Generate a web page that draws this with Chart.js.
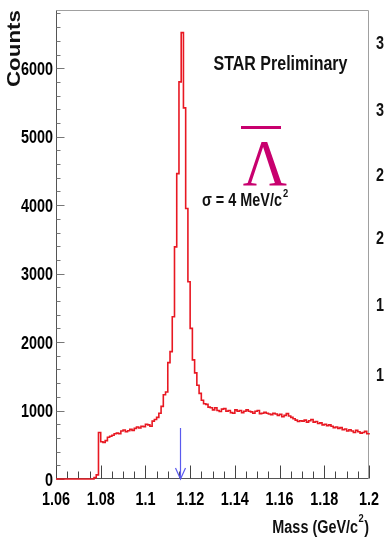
<!DOCTYPE html>
<html><head><meta charset="utf-8">
<script src="https://cdn.jsdelivr.net/npm/chart.js@4.4.1/dist/chart.umd.min.js"></script>
<style>html,body{margin:0;padding:0;background:#fff}#wrap{width:384px;height:553px;position:relative;overflow:hidden}</style>
</head><body><div id="wrap"><canvas id="c" width="384" height="553"></canvas></div>
<script>
// ---- data ----
const binStart = 1.060;      // GeV/c^2, lower edge of first bin
const binWidth = 0.001;      // 1 MeV bins
const counts = [
  0,0,0,0,0,0,0,0,0,0,0,0,0,0,0,0,        // 1.060-1.075
  20,60,680,545,535,560,610,625,640,660,   // 1.076-1.085
  670,660,700,715,690,705,725,710,740,760, // 1.086-1.095
  745,770,765,800,790,770,845,870,900,960, // 1.096-1.105
  1060,1230,1270,1700,1860,2370,3390,4460,5800,6520, // 1.106-1.115
  5420,3950,2880,2200,1740,1550,1370,1250,1150,1100, // 1.116-1.125
  1090,1050,1040,1010,1040,1000,985,1020,1030,990,   // 1.126-1.135
  1000,970,960,1010,990,1000,970,990,1010,990,       // 1.136-1.145
  980,960,990,1000,955,960,975,960,950,940,          // 1.146-1.155
  960,950,930,945,910,930,955,920,900,880,           // 1.156-1.165
  860,840,850,845,860,830,850,870,830,840,           // 1.166-1.175
  810,820,790,800,780,790,770,750,760,740,           // 1.176-1.185
  750,720,730,700,720,700,680,710,690,670,           // 1.186-1.195
  680,695,660,650                                    // 1.196-1.199
];
const xTickValues = [1.06,1.08,1.10,1.12,1.14,1.16,1.18,1.20];
const yTickValues = [0,1000,2000,3000,4000,5000,6000];
const xRange = [1.06, 1.20];
const yMax = 6850;
const arrowMass = [1.11568];
const arrowTop = [745];
const neighbourDigits = ['3','3','2','2','1','1'];
const xTitle = ['Mass (GeV/c','2',')'];
const yTitle = 'Counts';
const labelStar = 'STAR Preliminary';
const labelSigma = ['\u03C3 = 4 MeV/c','2'];
const labelLambda = '\u039B';

// ---- build histogram outline (value of bin i spans [edge_i, edge_i+1]) ----
const pts = [{x: binStart, y: 0}];
counts.forEach((c,i)=>pts.push({x: binStart + (i+1)*binWidth, y: c}));
pts.push({x: binStart + counts.length*binWidth, y: 0});

function txt(ctx,s,x,y,font,sx,align,color){
  ctx.save(); ctx.translate(x,y); ctx.scale(sx,1);
  ctx.font=font; ctx.textAlign=align; ctx.textBaseline='alphabetic';
  ctx.fillStyle=color||'#000'; ctx.fillText(s,0,0); ctx.restore();
}
function wid(ctx,s,font,sx){ctx.save();ctx.font=font;const w=ctx.measureText(s).width*sx;ctx.restore();return w;}
const bf = s => 'bold '+s+'px "Liberation Sans", Arial, sans-serif';

const deco = {
  id:'deco',
  beforeDatasetsDraw(chart){
    const {ctx, chartArea:a, scales:{x,y}} = chart;
    ctx.save();
    const L=Math.round(a.left)+0.5, R=Math.round(a.right)-0.5, T=Math.round(a.top)+0.5, B=Math.round(a.bottom)-0.5;
    ctx.lineWidth=1;
    ctx.strokeStyle='#a0a0a0';
    ctx.beginPath(); ctx.moveTo(L,T); ctx.lineTo(R,T); ctx.lineTo(R,B); ctx.stroke();
    ctx.strokeStyle='#555';
    ctx.beginPath(); ctx.moveTo(L,T); ctx.lineTo(L,B); ctx.lineTo(R,B); ctx.stroke();
    // x ticks (inward)
    ctx.strokeStyle='#444';
    for(let k=0;k<=28;k++){
      const v = xRange[0] + k*0.005;
      const px = Math.round(x.getPixelForValue(v))+0.5;
      const len = (k%4===0)?13:7;
      ctx.beginPath(); ctx.moveTo(px,B); ctx.lineTo(px,B-len); ctx.stroke();
    }
    // y ticks (inward)
    ctx.strokeStyle='#777';
    for(let v=0; v<=yMax; v+=200){
      const py = Math.round(y.getPixelForValue(v))+0.5;
      const len = (v%1000===0)?8:4;
      ctx.beginPath(); ctx.moveTo(L,py); ctx.lineTo(L+len,py); ctx.stroke();
    }
    // tick labels, placed through the library's scales
    x.ticks.forEach(t=>{
      txt(ctx,String(Math.round(t.value*100)/100),x.getPixelForValue(t.value),505,bf(18),0.8,'center','#000');
    });
    y.ticks.forEach(t=>{
      txt(ctx,String(t.value),a.left-3,y.getPixelForValue(t.value)+6.5,bf(18),0.8,'right','#000');
    });
    ctx.restore();
  },
  afterDatasetsDraw(chart){
    const {ctx, chartArea:a, scales:{x,y}} = chart;
    ctx.save();
    // arrow at nominal Lambda mass
    const ax = Math.round(x.getPixelForValue(arrowMass[0]))+0.5;
    const y0 = y.getPixelForValue(0), y1 = y.getPixelForValue(arrowTop[0]);
    ctx.strokeStyle='#5a5aee'; ctx.lineWidth=1.2;
    ctx.beginPath(); ctx.moveTo(ax,y1); ctx.lineTo(ax,y0); ctx.stroke();
    ctx.beginPath(); ctx.moveTo(ax-5,y0-11); ctx.lineTo(ax,y0); ctx.lineTo(ax+5,y0-11); ctx.stroke();

    // STAR Preliminary
    txt(ctx,labelStar,280.5,70,bf(20),0.8,'center','#111');
    // anti-Lambda
    const mag='#c8006e';
    ctx.fillStyle=mag; ctx.fillRect(241,126,40,3);
    txt(ctx,labelLambda,265,185,'65px "Liberation Serif", "DejaVu Serif", serif',0.94,'center',mag);
    // sigma
    const w1 = wid(ctx,labelSigma[0],bf(18),0.8);
    txt(ctx,labelSigma[0],202,206,bf(18),0.8,'left','#111');
    txt(ctx,labelSigma[1],202+w1+1,197,bf(11),0.85,'left','#111');
    // x title
    const wc = wid(ctx,xTitle[2],bf(18),0.8), ws = wid(ctx,xTitle[1],bf(11),0.85);
    const xe = a.right;
    txt(ctx,xTitle[2],xe-wc,533,bf(18),0.8,'left','#111');
    txt(ctx,xTitle[1],xe-wc-ws-0.5,522,bf(11),0.85,'left','#111');
    txt(ctx,xTitle[0],xe-wc-ws-1,533,bf(18),0.8,'right','#111');
    // y title
    ctx.save(); ctx.translate(20,a.top+77); ctx.rotate(-Math.PI/2); ctx.scale(1.24,1);
    ctx.font=bf(18); ctx.fillStyle='#111'; ctx.textAlign='left'; ctx.fillText(yTitle,0,0); ctx.restore();
    // neighbouring panel's clipped tick digits
    const nb=[49,115.5,181,244,311,381];
    neighbourDigits.forEach((d,i)=>txt(ctx,d,376,nb[i],bf(18),0.8,'left','#111'));
    ctx.restore();
  }
};

new Chart(document.getElementById('c'), {
  type:'line',
  data:{datasets:[{data:pts, stepped:'before', borderColor:'rgb(232,24,34)', borderWidth:1.6,
    pointRadius:0, fill:false, clip:false}]},
  options:{
    responsive:false, animation:false, devicePixelRatio:1,
    layout:{padding:{left:0,right:15,top:10,bottom:0}},
    plugins:{legend:{display:false}, tooltip:{enabled:false}},
    scales:{
      x:{type:'linear', min:xRange[0], max:xRange[1],
        afterBuildTicks:s=>{s.ticks=xTickValues.map(v=>({value:v}));},
        afterFit:s=>{s.height=74;},
        grid:{display:false, drawTicks:false}, border:{display:false},
        ticks:{display:false}},
      y:{type:'linear', min:0, max:yMax,
        afterBuildTicks:s=>{s.ticks=yTickValues.map(v=>({value:v}));},
        afterFit:s=>{s.width=56;},
        grid:{display:false, drawTicks:false}, border:{display:false},
        ticks:{display:false}}
    }
  },
  plugins:[deco]
});
</script></body></html>
